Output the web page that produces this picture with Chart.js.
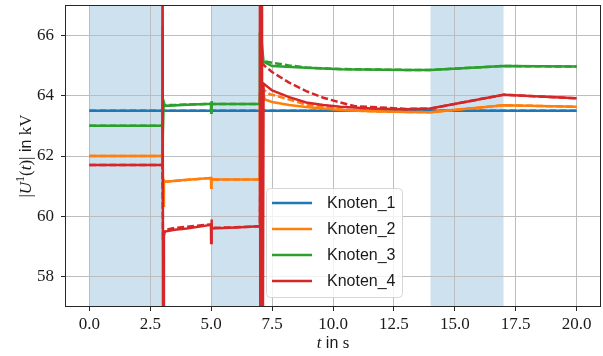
<!DOCTYPE html>
<html>
<head>
<meta charset="utf-8">
<script src="https://cdn.jsdelivr.net/npm/chart.js@4.4.0/dist/chart.umd.min.js"></script>
<style>
  html, body { margin: 0; padding: 0; background: #fff; }
  #wrap { width: 603px; height: 356px; }
</style>
</head>
<body>
<div id="wrap"><canvas id="uChart"></canvas></div>
<script>
// time axis ticks / value axis ticks
const xTicks = [0, 2.5, 5, 7.5, 10, 12.5, 15, 17.5, 20];
const yTicks = [58, 60, 62, 64, 66];

// shaded intervals (s)
const spans = [[0, 3], [5, 7], [14, 17]];

const names = ['Knoten_1', 'Knoten_2', 'Knoten_3', 'Knoten_4'];
const colors = ['#1f77b4', '#ff7f0e', '#2ca02c', '#d62728'];

// Knoten_1
const tK1 = [0, 20];
const uK1 = [63.5, 63.5];
const tK1ref = [0, 20];
const uK1ref = [63.5, 63.5];

// Knoten_2
const tK2 = [0, 2.99, 3.0, 3.03, 3.06, 3.1, 4.0, 4.99, 5.0, 5.01, 5.03, 6.0, 6.98, 7.0, 7.04, 7.08, 7.2, 7.5, 8.2, 8.9, 10.3, 11.6, 13.0, 14.0, 17.0, 20.0];
const uK2 = [62.0, 62.0, 62.45, 60.35, 61.2, 61.15, 61.21, 61.27, 60.95, 61.3, 61.22, 61.22, 61.22, 64.1, 62.5, 64.3, 63.87, 63.79, 63.69, 63.62, 63.52, 63.48, 63.46, 63.45, 63.68, 63.63];
const tK2ref = [0, 3.0, 3.02, 3.1, 5.0, 5.02, 7.0, 7.05, 7.15, 7.4, 8.2, 8.9, 9.6, 10.3, 11.0, 12.0, 14.0, 17.0, 20.0];
const uK2ref = [62.0, 62.0, 61.15, 61.15, 61.27, 61.22, 61.22, 64.3, 64.2, 64.05, 63.87, 63.7, 63.63, 63.55, 63.5, 63.47, 63.45, 63.68, 63.63];

// Knoten_3
const tK3 = [0, 2.99, 3.0, 3.02, 3.05, 3.1, 4.0, 4.99, 5.0, 5.01, 5.03, 6.0, 6.98, 7.0, 7.03, 7.06, 7.15, 7.5, 8.9, 10.3, 13.0, 14.0, 17.0, 20.0];
const uK3 = [63.0, 63.0, 66.3, 62.5, 63.8, 63.66, 63.7, 63.73, 63.43, 63.82, 63.72, 63.72, 63.72, 66.1, 65.2, 65.9, 65.12, 64.98, 64.92, 64.87, 64.85, 64.85, 64.98, 64.96];
const tK3ref = [0, 3.0, 3.02, 3.1, 5.0, 5.02, 7.0, 7.05, 7.2, 7.5, 8.2, 8.9, 10.3, 13.0, 14.0, 17.0, 20.0];
const uK3ref = [63.0, 63.0, 63.68, 63.68, 63.73, 63.72, 63.72, 65.2, 65.13, 65.09, 65.0, 64.93, 64.88, 64.85, 64.85, 64.98, 64.96];

// Knoten_4
const tK4 = [0, 2.99, 3.0, 3.03, 3.06, 3.1, 3.5, 4.0, 4.99, 5.0, 5.01, 5.03, 6.0, 6.98, 7.0, 7.02, 7.04, 7.06, 7.08, 7.1, 7.15, 7.5, 8.2, 8.9, 9.6, 10.3, 11.6, 13.0, 14.0, 17.0, 20.0];
const uK4 = [61.7, 61.7, 75, 50, 59.35, 59.5, 59.56, 59.6, 59.72, 59.12, 59.9, 59.6, 59.63, 59.67, 75, 50, 75, 50, 75, 50, 64.4, 64.17, 63.95, 63.77, 63.69, 63.63, 63.57, 63.55, 63.57, 64.03, 63.91];
const tK4ref = [0, 3.0, 3.02, 3.1, 3.5, 4.0, 5.0, 5.02, 6.0, 7.0, 7.05, 7.2, 7.5, 8.2, 8.9, 9.6, 10.3, 10.9, 11.6, 13.0, 14.0, 17.0, 20.0];
const uK4ref = [61.7, 61.7, 59.4, 59.55, 59.62, 59.66, 59.74, 59.62, 59.64, 59.67, 65.1, 64.98, 64.78, 64.43, 64.15, 63.93, 63.77, 63.65, 63.62, 63.56, 63.57, 64.03, 63.91];

const pts = (t, u) => t.map((x, i) => ({ x: x, y: u[i] }));

const series = [
    [tK1, uK1, tK1ref, uK1ref],
    [tK2, uK2, tK2ref, uK2ref],
    [tK3, uK3, tK3ref, uK3ref],
    [tK4, uK4, tK4ref, uK4ref]
];

const datasets = [];
series.forEach((s, i) => {
    datasets.push({ label: names[i], data: pts(s[0], s[1]), borderColor: colors[i], order: 8 - 2 * i });
    datasets.push({ label: names[i] + ' ref', data: pts(s[2], s[3]), borderColor: colors[i], borderDash: [7, 3], order: 7 - 2 * i });
});
datasets.forEach(d => { d.borderWidth = 2.5; d.pointRadius = 0; d.tension = 0; d.fill = false; d.clip = 0; });

const serif = '"Liberation Serif", "DejaVu Serif", serif';
const sans = '"Liberation Sans", "DejaVu Sans", sans-serif';

// shaded spans behind grid
const spanPlugin = {
    id: 'spans',
    beforeDraw(chart) {
        const { ctx, chartArea: a, scales: { x } } = chart;
        ctx.save();
        ctx.fillStyle = 'rgba(31,119,180,0.22)';
        spans.forEach(([s, e]) => {
            const x0 = x.getPixelForValue(s), x1 = x.getPixelForValue(e);
            ctx.fillRect(x0, a.top, x1 - x0, a.bottom - a.top);
        });
        ctx.restore();
    }
};

// draw text made of pieces with different fonts, centred on (cx, cy)
function drawParts(ctx, parts, cx, cy) {
    let w = 0;
    parts.forEach(p => { ctx.font = p.font; w += ctx.measureText(p.text).width; });
    let x = cx - w / 2;
    ctx.textBaseline = 'middle';
    ctx.textAlign = 'left';
    parts.forEach(p => {
        ctx.font = p.font;
        ctx.fillText(p.text, x, cy + (p.dy || 0));
        x += ctx.measureText(p.text).width;
    });
}

const decoPlugin = {
    id: 'deco',
    afterDraw(chart) {
        const { ctx, chartArea: a } = chart;
        ctx.save();
        // frame
        ctx.strokeStyle = '#262626';
        ctx.lineWidth = 1;
        ctx.strokeRect(a.left + 0.5, a.top + 0.5, a.right - a.left - 1, a.bottom - a.top - 1);

        // legend
        const lx = 266, ly = 188, lw = 136, lh = 109;
        ctx.beginPath();
        ctx.roundRect(lx + 0.5, ly + 0.5, lw, lh, 4);
        ctx.fillStyle = 'rgba(255,255,255,0.8)';
        ctx.fill();
        ctx.strokeStyle = '#d6d6d6';
        ctx.stroke();
        names.forEach((n, i) => {
            const y = 203 + i * 26;
            ctx.strokeStyle = colors[i];
            ctx.lineWidth = 2.5;
            ctx.beginPath();
            ctx.moveTo(272, y);
            ctx.lineTo(312, y);
            ctx.stroke();
            ctx.fillStyle = '#1a1a1a';
            ctx.font = '16px ' + sans;
            ctx.textAlign = 'left';
            ctx.textBaseline = 'middle';
            ctx.fillText(n, 327, y + 1);
        });

        // axis titles
        ctx.fillStyle = '#1a1a1a';
        const it = 'italic 17px ' + serif, rm = '17px ' + serif;
        drawParts(ctx, [
            { text: 't', font: it },
            { text: ' in ', font: '16px ' + sans },
            { text: 's', font: rm }
        ], (a.left + a.right) / 2, 344);

        ctx.translate(27, (a.top + a.bottom) / 2);
        ctx.rotate(-Math.PI / 2);
        drawParts(ctx, [
            { text: '|', font: rm },
            { text: 'U', font: it },
            { text: '1', font: '12px ' + serif, dy: -6 },
            { text: '(', font: rm },
            { text: 't', font: it },
            { text: ')|', font: rm },
            { text: ' in ', font: '16px ' + sans },
            { text: 'kV', font: rm }
        ], 0, 0);
        ctx.restore();
    }
};

new Chart(document.getElementById('uChart').getContext('2d'), {
    type: 'line',
    data: { datasets: datasets },
    options: {
        responsive: true,
        maintainAspectRatio: false,
        animation: false,
        layout: { padding: { top: 5, right: 2, left: 0, bottom: 0 } },
        plugins: { legend: { display: false }, tooltip: { enabled: false } },
        scales: {
            x: {
                type: 'linear',
                min: -1,
                max: 21,
                afterBuildTicks: s => { s.ticks = xTicks.map(v => ({ value: v })); },
                afterFit: s => { s.height = 49; s.paddingLeft = 0; s.paddingRight = 0; },
                ticks: {
                    callback: v => v.toFixed(1),
                    font: { family: serif, size: 17 },
                    color: '#1a1a1a',
                    padding: 3,
                    maxRotation: 0
                },
                grid: { color: '#bdbdbd', lineWidth: 1, tickLength: 4, tickColor: '#262626' },
                border: { display: false }
            },
            y: {
                min: 57,
                max: 67,
                afterBuildTicks: s => { s.ticks = yTicks.map(v => ({ value: v })); },
                afterFit: s => { s.width = 65; s.paddingTop = 0; s.paddingBottom = 0; },
                ticks: {
                    font: { family: serif, size: 17 },
                    color: '#1a1a1a',
                    padding: 7
                },
                grid: { color: '#bdbdbd', lineWidth: 1, tickLength: 4, tickColor: '#262626' },
                border: { display: false }
            }
        }
    },
    plugins: [spanPlugin, decoPlugin]
});
</script>
</body>
</html>
